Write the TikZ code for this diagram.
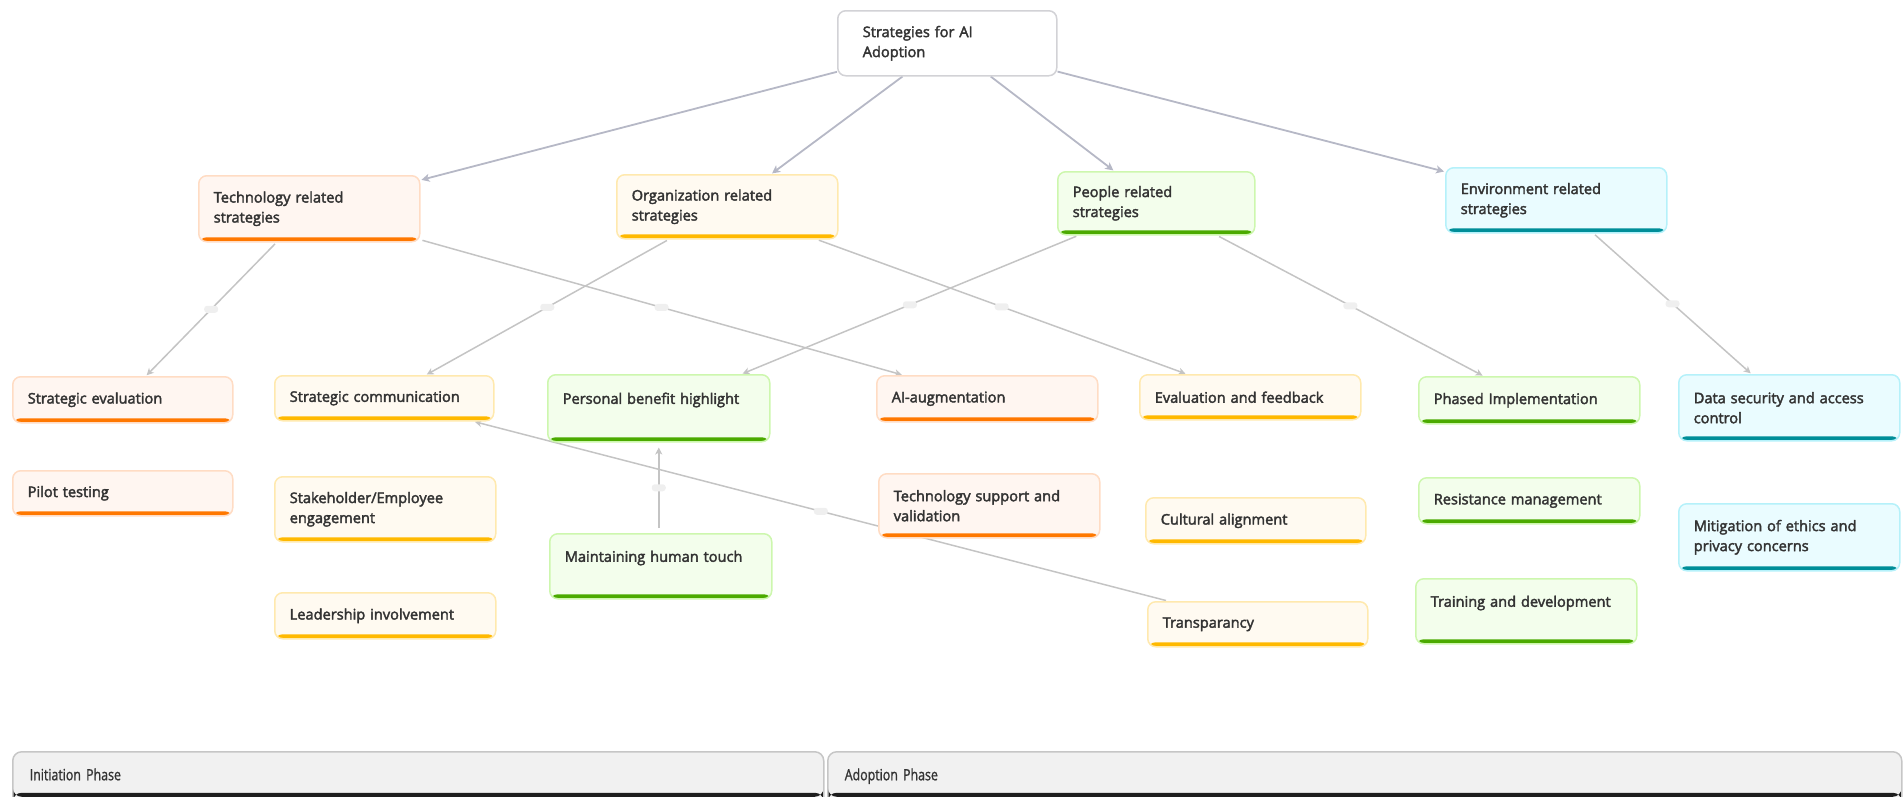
\documentclass[tikz,border=0pt]{standalone}
\usepackage{fontspec}
\setmainfont{Open Sans}
\newfontfamily\boxfont{Open Sans}[FakeBold=2.5]
\newfontfamily\phasefont{Open Sans}[FakeBold=1.2, FakeStretch=0.8]
\usetikzlibrary{arrows.meta}
\pgfdeclarelayer{bg}
\pgfsetlayers{bg,main}
\definecolor{txt}{HTML}{333333}
\definecolor{topedge}{HTML}{B6B8C6}
\definecolor{subedge}{HTML}{C4C4C4}
\definecolor{pillc}{HTML}{EFEFEF}
\definecolor{orfill}{HTML}{FFF6F1}
\definecolor{orline}{HTML}{FFDCC4}
\definecolor{orbarc}{HTML}{FF7800}
\definecolor{yefill}{HTML}{FFFAF1}
\definecolor{yeline}{HTML}{FFE9AE}
\definecolor{yebarc}{HTML}{FFB900}
\definecolor{grfill}{HTML}{F3FEEC}
\definecolor{grline}{HTML}{CDF7AE}
\definecolor{grbarc}{HTML}{4BAA00}
\definecolor{cyfill}{HTML}{EAFCFF}
\definecolor{cyline}{HTML}{B5F1FA}
\definecolor{cybarc}{HTML}{008E99}
\definecolor{rootline}{HTML}{D2D2D6}
\definecolor{phfill}{HTML}{F1F1F1}
\definecolor{phline}{HTML}{C6C6C6}
\definecolor{phbarc}{HTML}{1E1E1E}
\begin{document}
\begin{tikzpicture}[x=1pt,y=-1pt,
  font=\boxfont\fontsize{14.6}{20}\selectfont,
  barc/.style={path picture={\fill[fill=#1] ([yshift=4.5pt]path picture bounding box.south west) rectangle (path picture bounding box.south east);}},
  box/.style={rectangle, rounded corners=8pt, line width=1.5pt, anchor=north west, align=left, inner xsep=15pt, inner ysep=0pt, text=txt, text width=191pt},
  obox/.style={box, draw=orline, fill=orfill, barc=orbarc},
  ybox/.style={box, draw=yeline, fill=yefill, barc=yebarc},
  gbox/.style={box, draw=grline, fill=grfill, barc=grbarc},
  cbox/.style={box, draw=cyline, fill=cyfill, barc=cybarc},
  rootbox/.style={box, draw=rootline, fill=white, inner xsep=25pt, text width=169pt},
  phase/.style={rectangle, rounded corners=9pt, line width=1.5pt, draw=phline, fill=phfill, anchor=north west, inner xsep=17pt, inner ysep=0pt, minimum height=55pt, text height=10pt, text depth=8pt, text=txt, font=\phasefont\fontsize{15.5}{18}\selectfont, align=left,
    path picture={\fill[fill=phbarc] ([yshift=10pt]path picture bounding box.south west) rectangle ([yshift=14pt]path picture bounding box.south east);}},
  toparrow/.style={draw=topedge, line width=1.8pt, -{Stealth[length=8pt,width=8pt,inset=2pt]}, shorten >=1pt},
  subarrow/.style={draw=subedge, line width=1.5pt, -{Stealth[length=7pt,width=7pt,inset=2pt]}, shorten >=1pt, shorten <=2pt},
  pill/.style={rectangle, rounded corners=3pt, fill=pillc, minimum width=14pt, minimum height=7pt, inner sep=0pt},
]
\clip (0,0) rectangle (1903,796);

% root and categories
\node[rootbox, minimum height=65pt] (root) at (837,10) {Strategies for AI\\Adoption};
\node[obox, minimum height=66pt] (tech) at (198,175) {Technology related\\strategies};
\node[ybox, minimum height=64pt] (org) at (616,174) {Organization related\\strategies};
\node[gbox, minimum height=63pt, text width=167pt] (people) at (1057,171) {People related\\strategies};
\node[cbox, minimum height=65pt] (env) at (1445,167) {Environment related\\strategies};

% technology group
\node[obox, minimum height=46pt, text width=190pt] (se) at (12,376) {Strategic evaluation};
\node[obox, minimum height=45pt, text width=190pt] (pilot) at (12,470) {Pilot testing};
\node[obox, minimum height=46pt] (aiaug) at (876,375) {AI-augmentation};
\node[obox, minimum height=64pt] (techsup) at (878,473) {Technology support and\\validation};

% organization group
\node[ybox, minimum height=45pt, text width=189pt] (sc) at (274,375) {Strategic communication};
\node[ybox, minimum height=65pt] (stake) at (274,476) {Stakeholder/Employee\\engagement};
\node[ybox, minimum height=46pt] (lead) at (274,592) {Leadership involvement};
\node[ybox, minimum height=45pt] (ef) at (1139,374) {Evaluation and feedback};
\node[ybox, minimum height=46pt, text width=190pt] (ca) at (1145,497) {Cultural alignment};
\node[ybox, minimum height=45pt, text width=190pt] (transp) at (1147,601) {Transparancy};

% people group
\node[gbox, minimum height=67pt, text width=192pt] (pbh) at (547,374) {Personal benefit highlight\\\mbox{}};
\node[gbox, minimum height=65pt, text width=192pt] (mht) at (549,533) {Maintaining human touch\\\mbox{}};
\node[gbox, minimum height=47pt] (pi) at (1418,376) {Phased Implementation};
\node[gbox, minimum height=46pt] (rm) at (1418,477) {Resistance management};
\node[gbox, minimum height=65pt] (train) at (1415,578) {Training and development\\\mbox{}};

% environment group
\node[cbox, minimum height=66pt] (ds) at (1678,374) {Data security and access\\control};
\node[cbox, minimum height=67pt] (mit) at (1678,503) {Mitigation of ethics and\\privacy concerns};

% phases
\node[phase, minimum width=811pt, text width=777pt] (init) at (12,751) {Initiation Phase};
\node[phase, minimum width=1074pt, text width=1040pt] (adopt) at (827,751) {Adoption Phase};

% connectors
\begin{pgfonlayer}{bg}
\draw[toparrow] (root) -- (tech);
\draw[toparrow] (root) -- (org);
\draw[toparrow] (root) -- (people);
\draw[toparrow] (root) -- (env);
\draw[subarrow] (tech) -- node[pill]{} (se);
\draw[subarrow] (tech) -- node[pill]{} (aiaug);
\draw[subarrow] (org) -- node[pill]{} (sc);
\draw[subarrow] (org) -- node[pill]{} (ef);
\draw[subarrow] (people) -- node[pill]{} (pbh);
\draw[subarrow] (people) -- node[pill]{} (pi);
\draw[subarrow] (env) -- node[pill]{} (ds);
\draw[subarrow, shorten <=5pt, shorten >=5pt] (mht.north -| pbh.south) -- node[pill]{} (pbh.south);
\draw[subarrow] (transp) -- node[pill]{} (sc);
\end{pgfonlayer}
\end{tikzpicture}
\end{document}
